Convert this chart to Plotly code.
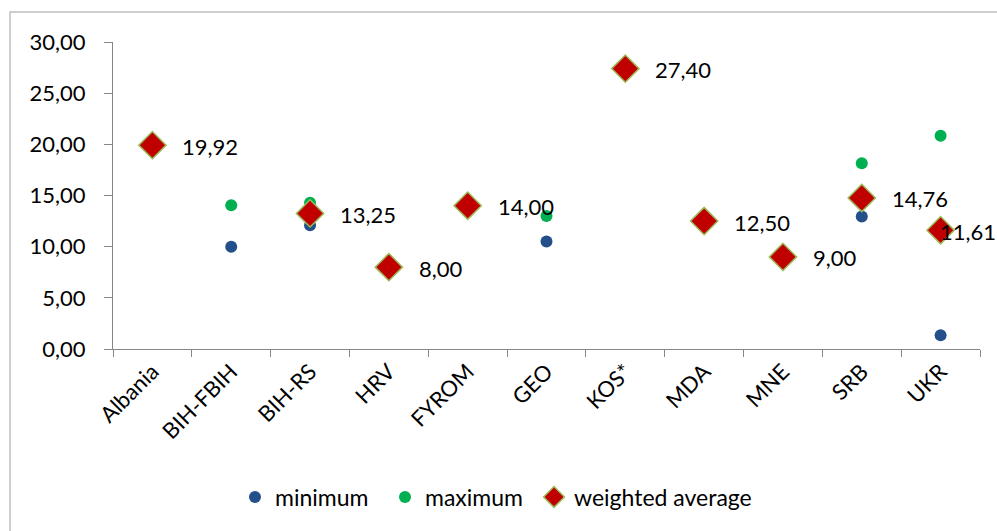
import plotly.graph_objects as go

categories = ["Albania", "BIH-FBIH", "BIH-RS", "HRV", "FYROM", "GEO", "KOS*", "MDA", "MNE", "SRB", "UKR"]
minimum = [None, 10.0, 12.1, None, None, 10.5, None, None, None, 12.95, 1.35]
maximum = [None, 14.05, 14.3, None, None, 13.0, None, None, None, 18.15, 20.85]
weighted_average = [19.92, None, 13.25, 8.00, 14.00, None, 27.40, 12.50, 9.00, 14.76, 11.61]

FONT = "Lato"
fig = go.Figure()
fig.add_trace(go.Scatter(x=categories, y=minimum, mode="markers", name="minimum", legend="legend",
                         marker=dict(symbol="circle", size=12, color="#23508A")))
fig.add_trace(go.Scatter(x=categories, y=maximum, mode="markers", name="maximum", legend="legend",
                         marker=dict(symbol="circle", size=12, color="#00B050")))
fig.add_trace(go.Scatter(x=categories, y=weighted_average, mode="markers", name="weighted average",
                         legend="legend2",
                         marker=dict(symbol="diamond", size=21, color="#C00000",
                                     line=dict(color="#9BBB59", width=1.5))))

annotations = []
for i, (c, v) in enumerate(zip(categories, weighted_average)):
    if v is None:
        continue
    last = i == len(categories) - 1
    annotations.append(dict(x=c, y=v, xref="x", yref="y", text=f"{v:.2f}".replace(".", ","),
                            showarrow=False, xanchor="left", yanchor="middle",
                            xshift=-3 if last else 28, yshift=-1,
                            font=dict(family=FONT, size=22, color="#000000")))

fig.update_layout(
    width=997, height=531,
    margin=dict(l=113, r=17, t=42, b=182, autoexpand=False),
    paper_bgcolor="white", plot_bgcolor="white",
    separators=",.",
    font=dict(family=FONT, size=22, color="#000000"),
    showlegend=True,
    legend=dict(orientation="h", x=0.1407, xanchor="left", y=-0.482, yanchor="middle",
                font=dict(family=FONT, size=23), itemwidth=30, tracegroupgap=0,
                entrywidth=105, entrywidthmode="pixels"),
    legend2=dict(orientation="h", x=0.4856, xanchor="left", y=-0.482, yanchor="middle",
                 font=dict(family=FONT, size=23), itemwidth=30, tracegroupgap=0),
    annotations=annotations,
    shapes=[dict(type="rect", xref="paper", yref="paper", x0=-0.1188, x1=1.2, y0=-0.8, y1=1.0977,
                 line=dict(color="#BFBFBF", width=1.5), fillcolor="rgba(0,0,0,0)", layer="below")],
)
fig.update_xaxes(type="category", range=[-0.5, 10.5], showline=True, linecolor="#868686", linewidth=1.3,
                 ticks="outside", tickson="boundaries", ticklen=7, tickcolor="#868686",
                 tickangle=-45, showgrid=False, zeroline=False, automargin=False,
                 tickfont=dict(family=FONT, size=22))
fig.update_yaxes(range=[0, 30], dtick=5, tickformat=".2f", showline=True, linecolor="#868686", linewidth=1.3,
                 ticks="outside", ticklen=8, tickcolor="#868686", showgrid=False, zeroline=False,
                 automargin=False, tickfont=dict(family=FONT, size=22), ticklabelstandoff=14)

fig.write_html("out.html", config={"displayModeBar": False},
               post_script="document.body.style.margin='0';document.body.style.overflow='hidden';")
